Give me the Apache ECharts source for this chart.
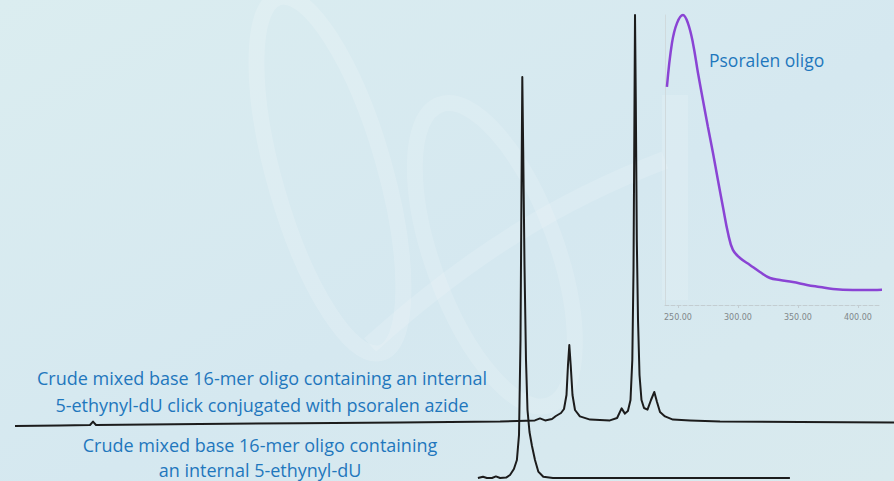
<!DOCTYPE html>
<html>
<head>
<meta charset="utf-8">
<title>Psoralen oligo HPLC</title>
<script src="https://cdn.jsdelivr.net/npm/echarts@6/dist/echarts.min.js"></script>
<style>
  html, body { margin: 0; padding: 0; }
  #chart { width: 894px; height: 481px; }
</style>
</head>
<body>
<div id="chart"></div>
<script>
// Retention time (min) and absorbance (AU) of the crude 5-ethynyl-dU oligo
const crudeTime = [15.93, 16.10, 16.23, 16.40, 16.53, 16.67, 16.87, 17.00, 17.13, 17.23, 17.30, 17.35, 17.383, 17.41, 17.44, 17.483, 17.533, 17.583, 17.65, 17.733, 17.833, 17.943, 18.11, 18.43, 21.67, 26.33];
const crudeAbs  = [0.000, 0.003, 0.000, 0.000, 0.004, 0.000, 0.001, 0.0075, 0.0225, 0.045, 0.1075, 0.345, 0.72, 1.0025, 0.82, 0.5325, 0.295, 0.17, 0.115, 0.08, 0.045, 0.016, 0.003, 0.000, 0.000, 0.000];

// Retention time (min) and absorbance (AU) of the psoralen click conjugate
const conjTime = [0.5, 2.0, 3.0, 3.1, 3.2, 6.67, 10.0, 13.33, 16.67, 17.83, 18.0, 18.17, 18.4, 18.53, 18.7, 18.8, 18.883, 18.933, 18.977, 19.023, 19.083, 19.167, 19.33, 19.67, 20.33, 20.57, 20.72, 20.83, 20.93, 21.017, 21.077, 21.117, 21.147, 21.167, 21.193, 21.227, 21.267, 21.317, 21.383, 21.467, 21.583, 21.7, 21.81, 21.9, 22.0, 22.167, 22.43, 23.0, 24.0, 26.67, 29.8];
const conjAbs  = [-0.01, -0.009, -0.0075, 0.001, -0.0075, -0.005, -0.003, -0.001, 0.001, 0.004, 0.009, 0.004, 0.0075, 0.015, 0.0225, 0.0325, 0.0675, 0.1425, 0.1925, 0.1425, 0.0675, 0.03, 0.014, 0.006, 0.004, 0.01, 0.034, 0.021, 0.0275, 0.055, 0.155, 0.38, 0.755, 1.0175, 0.805, 0.455, 0.255, 0.1175, 0.055, 0.035, 0.031, 0.055, 0.075, 0.05, 0.025, 0.014, 0.006, 0.004, 0.001, 0.000, -0.001];
// Vertical stacking offset (AU) for the conjugate trace
const CONJ_OFFSET = 0.14;

// UV absorbance spectrum of the psoralen oligo
const uvWavelength = [240.8, 245, 249.2, 254.2, 258.3, 262.5, 266.7, 270.8, 275, 279.2, 283.3, 287.5, 291.7, 295.8, 301.7, 310, 318.3, 326.7, 335, 345.8, 357.5, 368.3, 379.2, 395.8, 412.5, 429.2];
const uvAbs        = [0.752, 0.903, 0.972, 1.0, 0.972, 0.903, 0.8, 0.707, 0.614, 0.524, 0.431, 0.338, 0.248, 0.19, 0.162, 0.138, 0.114, 0.093, 0.086, 0.079, 0.069, 0.062, 0.055, 0.052, 0.052, 0.055];
const uvTicks = [250, 300, 350, 400];

const labelConj = ['Crude mixed base 16-mer oligo containing an internal', '5-ethynyl-dU click conjugated with psoralen azide'];
const labelCrude = ['Crude mixed base 16-mer oligo containing', 'an internal 5-ethynyl-dU'];
const labelUV = 'Psoralen oligo';

const zip = (xs, ys, off) => xs.map((x, i) => [x, ys[i] + (off || 0)]);

const chart = echarts.init(document.getElementById('chart'), null, { renderer: 'svg' });

const textBlue = '#1f77bd';
const labelFont = '"Open Sans", "Noto Sans", sans-serif';

// faint swirl watermark behind the traces
const swirlStyle = (w, a) => ({ fill: 'none', stroke: 'rgba(255,255,255,' + a + ')', lineWidth: w });
const watermark = [
  { type: 'ellipse', silent: true, z: -1, shape: { cx: 330, cy: 175, rx: 55, ry: 185 }, rotation: 0.28, originX: 330, originY: 175, style: swirlStyle(16, 0.16) },
  { type: 'ellipse', silent: true, z: -1, shape: { cx: 495, cy: 255, rx: 62, ry: 160 }, rotation: 0.35, originX: 495, originY: 255, style: swirlStyle(16, 0.14) },
  { type: 'bezierCurve', silent: true, z: -1, shape: { x1: 370, y1: 345, cpx1: 470, cpy1: 255, cpx2: 560, cpy2: 200, x2: 665, y2: 160 }, style: swirlStyle(18, 0.14) }
];

chart.setOption({
  animation: false,
  backgroundColor: {
    type: 'linear', x: 0, y: 0, x2: 1, y2: 1,
    colorStops: [
      { offset: 0, color: '#dbedf0' },
      { offset: 0.55, color: '#d5e8f0' },
      { offset: 1, color: '#d9eaee' }
    ]
  },
  grid: [
    { left: 0, right: 0, top: 0, bottom: 3 },
    { left: 665, right: 14, top: 15, bottom: 176 }
  ],
  xAxis: [
    { type: 'value', gridIndex: 0, min: 0, max: 29.8, show: false },
    {
      type: 'value', gridIndex: 1, min: 239.2, max: 418.4,
      axisLine: { show: true, lineStyle: { color: '#c3cdd1', width: 1, type: 'dashed' } },
      axisTick: { show: true, customValues: uvTicks, length: 3, lineStyle: { color: '#c3cdd1' } },
      axisLabel: {
        customValues: uvTicks, margin: 8, color: '#80878a', fontSize: 8,
        fontFamily: '"DejaVu Sans", sans-serif',
        formatter: v => v.toFixed(2)
      },
      splitLine: { show: false }
    }
  ],
  yAxis: [
    { type: 'value', gridIndex: 0, min: 0, max: 1.195, show: false },
    {
      type: 'value', gridIndex: 1, min: 0, max: 1,
      axisLine: { show: true, lineStyle: { color: '#d0dadd', width: 1 } },
      axisTick: { show: false }, axisLabel: { show: false }, splitLine: { show: false }
    }
  ],
  series: [
    {
      name: 'crude', type: 'line', xAxisIndex: 0, yAxisIndex: 0,
      data: zip(crudeTime, crudeAbs), showSymbol: false, smooth: false,
      lineStyle: { color: '#1c1c1c', width: 2, join: 'round' }, z: 3
    },
    {
      name: 'conjugate', type: 'line', xAxisIndex: 0, yAxisIndex: 0,
      data: zip(conjTime, conjAbs, CONJ_OFFSET), showSymbol: false, smooth: false,
      lineStyle: { color: '#1c1c1c', width: 2, join: 'round' }, z: 3
    },
    {
      name: 'uv', type: 'line', xAxisIndex: 1, yAxisIndex: 1, clip: false,
      data: zip(uvWavelength, uvAbs), showSymbol: false, smooth: 0.4,
      lineStyle: { color: '#8a44d4', width: 2.5 }, z: 4
    }
  ],
  graphic: watermark.concat([
    {
      type: 'rect', silent: true, z: -1,
      shape: { x: 662, y: 95, width: 26, height: 205 },
      style: { fill: 'rgba(255,255,255,0.14)' }
    },
    {
      type: 'text', x: 262, y: 364, z: 10,
      style: { text: labelConj.join('\n'), fill: textBlue, font: '18px ' + labelFont, textAlign: 'center', lineHeight: 27 }
    },
    {
      type: 'text', x: 260, y: 432, z: 10,
      style: { text: labelCrude.join('\n'), fill: textBlue, font: '18px ' + labelFont, textAlign: 'center', lineHeight: 25 }
    },
    {
      type: 'text', x: 709, y: 51, z: 10,
      style: { text: labelUV, fill: textBlue, font: '17.5px ' + labelFont, textAlign: 'left' }
    }
  ])
});
</script>
</body>
</html>
